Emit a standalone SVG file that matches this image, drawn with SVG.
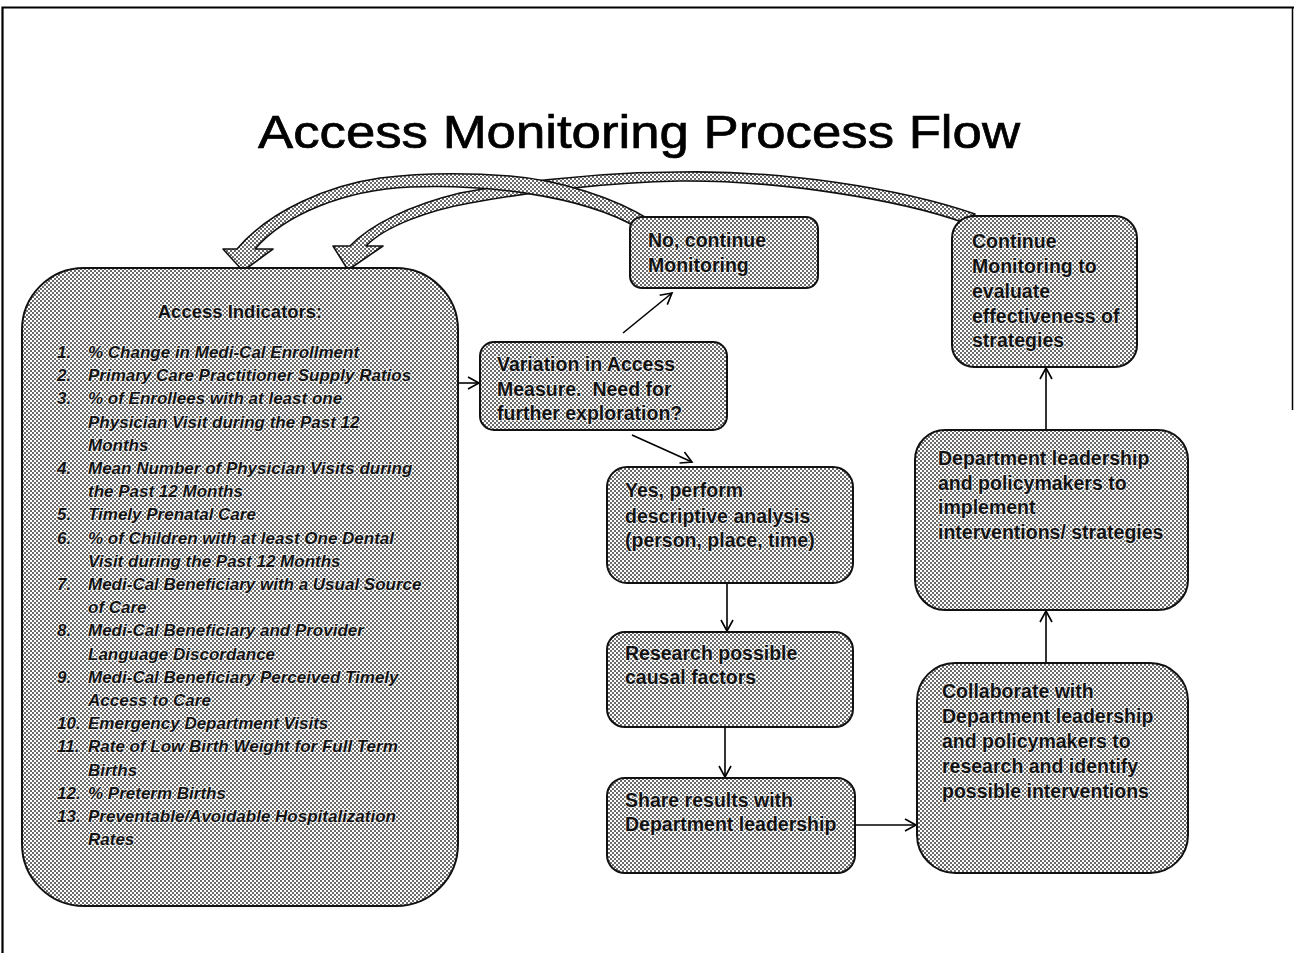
<svg xmlns="http://www.w3.org/2000/svg" width="1294" height="953" viewBox="0 0 1294 953">
<defs>
  <pattern id="dots" patternUnits="userSpaceOnUse" width="4" height="4">
    <rect x="0" y="0" width="4" height="4" fill="#ffffff"/>
    <rect x="0" y="0" width="2" height="2" fill="#6a6a6a"/>
    <rect x="2" y="2" width="2" height="2" fill="#6a6a6a"/>
  </pattern>
  <marker id="arr" markerUnits="userSpaceOnUse" markerWidth="16" markerHeight="16" refX="12" refY="7" orient="auto">
    <path d="M1,1 L12,7 L1,13" fill="none" stroke="#000" stroke-width="1.6"/>
  </marker>
  <style>
    .box { fill: url(#dots); stroke: #111; stroke-width: 2; }
    .blk { fill: url(#dots); stroke: #111; stroke-width: 1.6; stroke-linejoin: round; }
    .t { font-family: "Liberation Sans", Arial, sans-serif; font-weight: bold; font-size: 19.5px; fill: #111; stroke: #fff; stroke-width: 2.2px; stroke-opacity: 0.55; paint-order: stroke; white-space: pre; }
    .li { font-family: "Liberation Sans", Arial, sans-serif; font-weight: bold; font-style: italic; font-size: 17px; fill: #111; stroke: #fff; stroke-width: 2.2px; stroke-opacity: 0.55; paint-order: stroke; white-space: pre; }
    .hd { font-family: "Liberation Sans", Arial, sans-serif; font-weight: bold; font-size: 18.5px; fill: #111; stroke: #fff; stroke-width: 2.2px; stroke-opacity: 0.55; paint-order: stroke; }
    .title { font-family: "Liberation Sans", Arial, sans-serif; font-size: 47px; fill: #000; stroke: #000; stroke-width: 0.7px; }
    .conn { fill: none; stroke: #000; stroke-width: 1.6; marker-end: url(#arr); }
  </style>
</defs>

<rect x="0" y="0" width="1294" height="953" fill="#fff"/>

<g id="frame" fill="none" stroke="#000">
  <path d="M2.5,953 V7.5 H1294" stroke-width="2.2"/>
  <path d="M1292.5,7.5 V410" stroke-width="1.5"/>
</g>

<g id="title">
  <text class="title" x="258" y="148" textLength="762" lengthAdjust="spacingAndGlyphs">Access Monitoring Process Flow</text>
</g>

<g id="loop-arrows">
  <path class="blk" d="M975,214 C900,188 780,170 680,172 C600,172 530,180 460,193 C410,205 370,225 350,246 L333,246 L348,270 L383,246 L366,246 C385,226 430,210 470,203 C530,192 610,182 680,181 C780,180 900,200 962,222 Z"/>
  <path class="blk" d="M650,220 C615,198 560,180 510,176 C470,173 420,173 380,178 C330,185 270,210 237,249 L223,249 L243,271 L273,249 L255,249 C285,214 345,190 410,187 C480,184 580,194 638,228 Z"/>
</g>

<g id="connectors">
  <path class="conn" d="M458,383 L479,383"/>
  <path class="conn" d="M623,333 L672,293"/>
  <path class="conn" d="M632,435 L692,462"/>
  <path class="conn" d="M727,583 L727,631"/>
  <path class="conn" d="M725,727 L725,777"/>
  <path class="conn" d="M855,825 L916,825"/>
  <path class="conn" d="M1046,663 L1046,611"/>
  <path class="conn" d="M1046,430 L1046,368"/>
</g>

<g id="access-indicators">
  <rect class="box" x="22" y="268" width="436" height="638" rx="62" ry="62"/>
  <text class="hd" x="240" y="318" text-anchor="middle">Access Indicators:</text>
  <g class="li">
    <text x="57" y="358">1.</text><text x="88" y="358">% Change in Medi-Cal Enrollment</text>
    <text x="57" y="381.2">2.</text><text x="88" y="381.2">Primary Care Practitioner Supply Ratios</text>
    <text x="57" y="404.4">3.</text><text x="88" y="404.4">% of Enrollees with at least one</text>
    <text x="88" y="427.6">Physician Visit during the Past 12</text>
    <text x="88" y="450.8">Months</text>
    <text x="57" y="474">4.</text><text x="88" y="474">Mean Number of Physician Visits during</text>
    <text x="88" y="497.2">the Past 12 Months</text>
    <text x="57" y="520.4">5.</text><text x="88" y="520.4">Timely Prenatal Care</text>
    <text x="57" y="543.6">6.</text><text x="88" y="543.6">% of Children with at least One Dental</text>
    <text x="88" y="566.8">Visit during the Past 12  Months</text>
    <text x="57" y="590">7.</text><text x="88" y="590">Medi-Cal Beneficiary with a Usual Source</text>
    <text x="88" y="613.2">of Care</text>
    <text x="57" y="636.4">8.</text><text x="88" y="636.4">Medi-Cal Beneficiary and Provider</text>
    <text x="88" y="659.6">Language Discordance</text>
    <text x="57" y="682.8">9.</text><text x="88" y="682.8">Medi-Cal Beneficiary Perceived Timely</text>
    <text x="88" y="706">Access to Care</text>
    <text x="57" y="729.2">10.</text><text x="88" y="729.2">Emergency Department Visits</text>
    <text x="57" y="752.4">11.</text><text x="88" y="752.4">Rate of Low Birth  Weight for Full Term</text>
    <text x="88" y="775.6">Births</text>
    <text x="57" y="798.8">12.</text><text x="88" y="798.8">% Preterm  Births</text>
    <text x="57" y="822">13.</text><text x="88" y="822">Preventable/Avoidable Hospitalization</text>
    <text x="88" y="845.2">Rates</text>
  </g>
</g>

<g id="variation">
  <rect class="box" x="480" y="342" width="247" height="88" rx="14" ry="14"/>
  <text class="t" x="497" y="371">Variation in Access</text>
  <text class="t" x="497" y="396">Measure.  Need for</text>
  <text class="t" x="497" y="420">further exploration?</text>
</g>

<g id="no-continue">
  <rect class="box" x="630" y="217" width="188" height="71" rx="12" ry="12"/>
  <text class="t" x="648" y="247">No, continue</text>
  <text class="t" x="648" y="272">Monitoring</text>
</g>

<g id="yes-perform">
  <rect class="box" x="607" y="467" width="246" height="116" rx="20" ry="20"/>
  <text class="t" x="625" y="497">Yes, perform</text>
  <text class="t" x="625" y="523">descriptive analysis</text>
  <text class="t" x="625" y="547">(person, place, time)</text>
</g>

<g id="research">
  <rect class="box" x="607" y="632" width="246" height="95" rx="18" ry="18"/>
  <text class="t" x="625" y="660">Research possible</text>
  <text class="t" x="625" y="684">causal factors</text>
</g>

<g id="share">
  <rect class="box" x="607" y="778" width="248" height="95" rx="18" ry="18"/>
  <text class="t" x="625" y="807">Share results with</text>
  <text class="t" x="625" y="831">Department leadership</text>
</g>

<g id="collaborate">
  <rect class="box" x="917" y="663" width="271" height="210" rx="38" ry="38"/>
  <text class="t" x="942" y="698">Collaborate with</text>
  <text class="t" x="942" y="723">Department leadership</text>
  <text class="t" x="942" y="748">and policymakers to</text>
  <text class="t" x="942" y="773">research and identify</text>
  <text class="t" x="942" y="798">possible interventions</text>
</g>

<g id="implement">
  <rect class="box" x="915" y="430" width="273" height="180" rx="30" ry="30"/>
  <text class="t" x="938" y="465">Department leadership</text>
  <text class="t" x="938" y="490">and policymakers to</text>
  <text class="t" x="938" y="514">implement</text>
  <text class="t" x="938" y="539">interventions/ strategies</text>
</g>

<g id="continue-monitoring">
  <rect class="box" x="952" y="216" width="185" height="151" rx="22" ry="22"/>
  <text class="t" x="972" y="248">Continue</text>
  <text class="t" x="972" y="273">Monitoring to</text>
  <text class="t" x="972" y="298">evaluate</text>
  <text class="t" x="972" y="323">effectiveness of</text>
  <text class="t" x="972" y="347">strategies</text>
</g>
</svg>
